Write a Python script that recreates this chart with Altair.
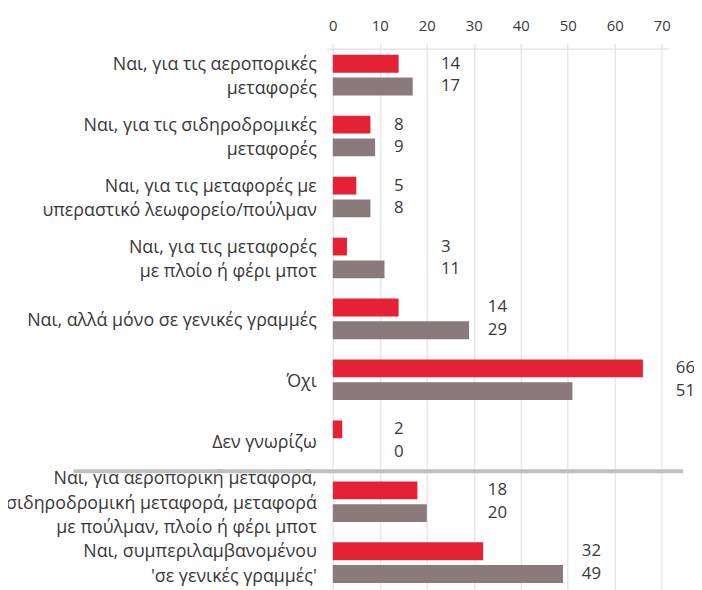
import altair as alt
import pandas as pd

categories = [
    "Ναι, για τις αεροπορικές\nμεταφορές",
    "Ναι, για τις σιδηροδρομικές\nμεταφορές",
    "Ναι, για τις μεταφορές με\nυπεραστικό λεωφορείο/πούλμαν",
    "Ναι, για τις μεταφορές\nμε πλοίο ή φέρι μποτ",
    "Ναι, αλλά μόνο σε γενικές γραμμές",
    "Όχι",
    "Δεν γνωρίζω",
    "Ναι, για αεροπορική μεταφορά,\nσιδηροδρομική μεταφορά, μεταφορά\nμε πούλμαν, πλοίο ή φέρι μποτ",
    "Ναι, συμπεριλαμβανομένου\n'σε γενικές γραμμές'",
]
series_names = ["Σειρά 1", "Σειρά 2"]
red_values = [14, 8, 5, 3, 14, 66, 2, 18, 32]
gray_values = [17, 9, 8, 11, 29, 51, 0, 20, 49]
tick_values = [0, 10, 20, 30, 40, 50, 60, 70]
colors = ["#E52135", "#8B7A7C"]

rows = []
for cat, r, g in zip(categories, red_values, gray_values):
    lx = (max(r, g) // 10) * 10 + 13
    rows.append({"cat": cat, "series": series_names[0], "value": r, "label_x": lx})
    rows.append({"cat": cat, "series": series_names[1], "value": g, "label_x": lx})
df = pd.DataFrame(rows)
cat_df = pd.DataFrame({"cat": categories, "nlines": [c.count("\n") + 1 for c in categories]})
sep_df = pd.DataFrame({"cat": [categories[7]]})

FONT = "Open Sans"
TEXT = "#383838"
LINE_H = 24.5

y_enc = alt.Y(
    "cat:N", sort=categories,
    scale=alt.Scale(paddingInner=0, paddingOuter=0),
    axis=None,
)
yoff_enc = alt.YOffset(
    "series:N", sort=series_names,
    scale=alt.Scale(paddingInner=0.2174, paddingOuter=0.447),
)
x_scale = alt.Scale(domain=[-1.3, 71.4], nice=False, zero=False)

bars = alt.Chart(df).mark_bar().encode(
    y=y_enc,
    yOffset=yoff_enc,
    x=alt.X(
        "value:Q", stack=None, scale=x_scale,
        axis=alt.Axis(
            orient="top", title=None, values=tick_values, grid=True,
            gridColor="#E8E8E8", gridWidth=1.5,
            domainColor="#E0E0E0", domainWidth=1.5,
            tickColor="#E0E0E0", tickSize=5, tickWidth=1,
            labelFontSize=15, labelFont=FONT, labelColor=TEXT,
            labelPadding=10, offset=-4,
        ),
    ),
    color=alt.Color("series:N", scale=alt.Scale(domain=series_names, range=colors), legend=None),
)

labels = alt.Chart(df).mark_text(
    align="left", baseline="middle", font=FONT, fontSize=17, color=TEXT
).encode(
    y=alt.Y("cat:N", sort=categories),
    yOffset=alt.YOffset("series:N", sort=series_names),
    x=alt.X("label_x:Q", scale=x_scale),
    text=alt.Text("value:Q"),
)

cat_layers = []
for n in (1, 2, 3):
    cat_layers.append(
        alt.Chart(cat_df).transform_filter(alt.datum.nlines == n).mark_text(
            align="right", baseline="middle", font=FONT, fontSize=18, color=TEXT,
            lineBreak="\n", lineHeight=LINE_H, dy=-(n - 1) * LINE_H / 2 + 2,
        ).encode(
            y=alt.Y("cat:N", sort=categories),
            x=alt.value(-10),
            text="cat:N",
        )
    )

sep = alt.Chart(sep_df).mark_rule(strokeWidth=4, color="#BFBFBF").encode(
    y=alt.Y("cat:N", sort=categories, bandPosition=0),
    x=alt.value(-256),
    x2=alt.value(360),
)

chart = alt.layer(bars, labels, *cat_layers, sep).properties(
    width=345, height=554,
    autosize=alt.AutoSizeParams(type="none"),
    padding={"left": 322, "top": 34, "right": 26, "bottom": 10},
).configure_view(stroke=None)

chart.save("out.html", embed_options={"renderer": "svg", "actions": False})
